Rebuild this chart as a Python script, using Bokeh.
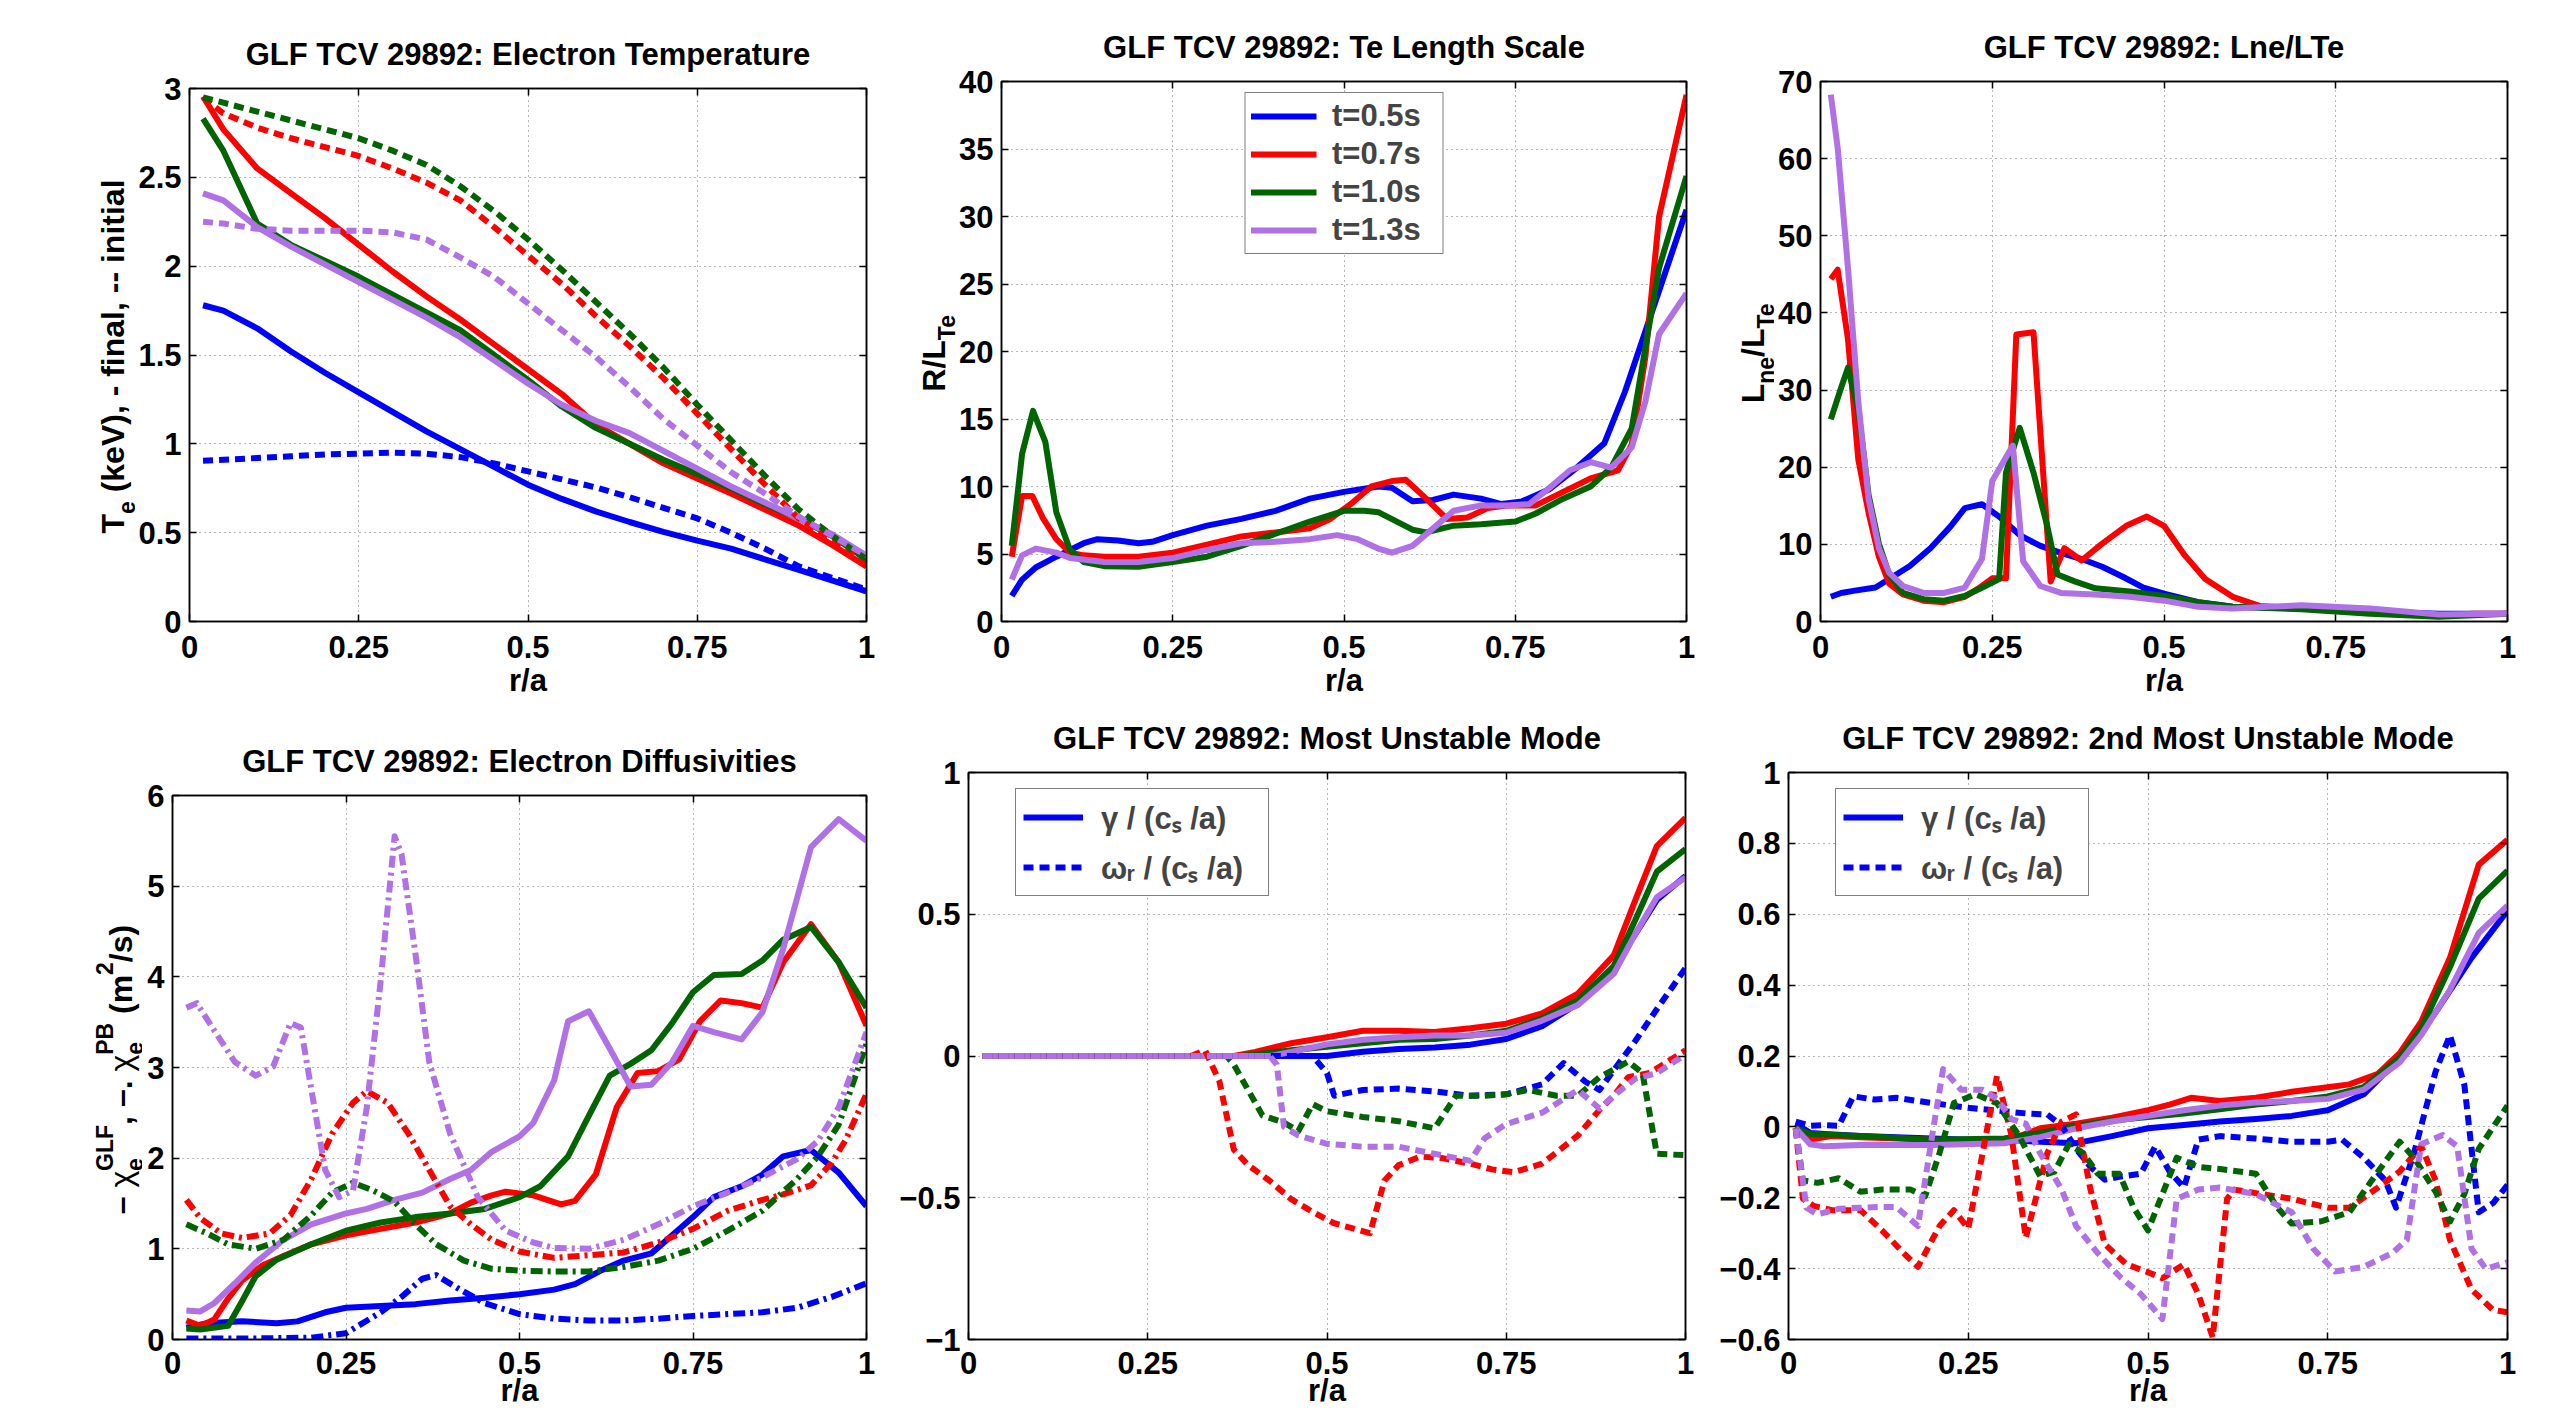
import math
from bokeh.plotting import figure
from bokeh.models import (Range1d, LinearAxis, FixedTicker, Label, Legend, LegendItem,
                          CustomJSTickFormatter)
from bokeh.layouts import column, row
from bokeh.embed import file_html
from bokeh.resources import INLINE

FONT = "Liberation Sans"
BLUE, RED, GREEN, PURPLE = "#0000FF", "#FF0000", "#006400", "#B070E6"
LW = 6
DASH = "10 6"
DASHDOT = "12 5 3 5"

# ---------------- data: Electron temperature ----------------
te_x = [0.02, 0.05, 0.1, 0.15, 0.2, 0.25, 0.3, 0.35, 0.4, 0.45, 0.5, 0.55, 0.6, 0.65, 0.7, 0.75, 0.8, 0.85, 0.9, 0.95, 1.0]
te_blue_final = [1.78, 1.75, 1.65, 1.52, 1.40, 1.29, 1.18, 1.07, 0.97, 0.87, 0.77, 0.69, 0.62, 0.56, 0.505, 0.455, 0.41, 0.35, 0.29, 0.23, 0.17]
te_red_final = [2.955, 2.77, 2.55, 2.41, 2.27, 2.12, 1.97, 1.83, 1.70, 1.56, 1.42, 1.28, 1.11, 1.0, 0.89, 0.805, 0.72, 0.63, 0.54, 0.43, 0.31]
te_green_final = [2.83, 2.65, 2.24, 2.12, 2.03, 1.94, 1.84, 1.74, 1.64, 1.50, 1.36, 1.21, 1.09, 1.0, 0.91, 0.83, 0.75, 0.66, 0.58, 0.48, 0.35]
te_purple_final = [2.41, 2.37, 2.22, 2.11, 2.01, 1.91, 1.81, 1.71, 1.60, 1.47, 1.34, 1.22, 1.13, 1.06, 0.96, 0.86, 0.76, 0.67, 0.58, 0.49, 0.37]
te_blue_init = [0.905, 0.91, 0.92, 0.93, 0.94, 0.945, 0.95, 0.945, 0.925, 0.89, 0.845, 0.80, 0.755, 0.70, 0.64, 0.58, 0.50, 0.41, 0.31, 0.245, 0.18]
te_red_init = [2.95, 2.86, 2.78, 2.72, 2.67, 2.62, 2.55, 2.47, 2.37, 2.22, 2.06, 1.90, 1.72, 1.55, 1.37, 1.17, 0.97, 0.77, 0.58, 0.46, 0.33]
te_green_init = [2.95, 2.92, 2.87, 2.82, 2.77, 2.72, 2.65, 2.57, 2.45, 2.31, 2.15, 1.98, 1.80, 1.62, 1.43, 1.22, 1.02, 0.82, 0.63, 0.48, 0.35]
te_purple_init = [2.25, 2.24, 2.21, 2.2, 2.2, 2.2, 2.19, 2.15, 2.05, 1.94, 1.79, 1.64, 1.49, 1.32, 1.14, 0.99, 0.84, 0.72, 0.59, 0.48, 0.37]

# ---------------- data: R/L_Te ----------------
rl_blue_x = [0.015, 0.03, 0.05, 0.08, 0.1, 0.12, 0.14, 0.17, 0.2, 0.22, 0.25, 0.3, 0.35, 0.4, 0.45, 0.5, 0.55, 0.57, 0.6, 0.63, 0.66, 0.7, 0.73, 0.76, 0.8, 0.84, 0.88, 0.91, 0.94, 0.97, 1.0]
rl_blue_y = [1.9, 3.1, 4.0, 4.8, 5.3, 5.8, 6.1, 6.0, 5.8, 5.9, 6.4, 7.1, 7.6, 8.2, 9.1, 9.6, 10.0, 9.9, 8.9, 9.0, 9.4, 9.1, 8.7, 8.9, 9.8, 11.4, 13.2, 17.0, 21.5, 26.0, 30.5]
rl_red_x = [0.015, 0.03, 0.045, 0.06, 0.08, 0.1, 0.12, 0.15, 0.2, 0.25, 0.3, 0.35, 0.4, 0.45, 0.48, 0.51, 0.54, 0.57, 0.59, 0.62, 0.65, 0.68, 0.71, 0.74, 0.78, 0.82, 0.86, 0.9, 0.92, 0.94, 0.96, 1.0]
rl_red_y = [4.8, 9.3, 9.3, 7.7, 6.1, 5.1, 4.9, 4.8, 4.8, 5.1, 5.7, 6.3, 6.6, 6.9, 7.6, 8.7, 10.0, 10.4, 10.5, 9.1, 7.6, 7.7, 8.4, 8.6, 8.6, 9.6, 10.6, 11.2, 13.1, 19.6, 30.0, 39.0]
rl_green_x = [0.015, 0.03, 0.046, 0.064, 0.08, 0.1, 0.12, 0.15, 0.2, 0.25, 0.3, 0.35, 0.4, 0.45, 0.5, 0.53, 0.55, 0.6, 0.62, 0.66, 0.7, 0.75, 0.78, 0.82, 0.86, 0.89, 0.92, 0.94, 0.96, 1.0]
rl_green_y = [5.6, 12.4, 15.6, 13.3, 8.1, 5.3, 4.4, 4.1, 4.05, 4.4, 4.8, 5.6, 6.5, 7.4, 8.2, 8.2, 8.1, 6.8, 6.6, 7.1, 7.2, 7.4, 8.0, 9.1, 10.0, 11.4, 14.3, 20.3, 26.2, 33.0]
rl_purple_x = [0.015, 0.03, 0.05, 0.08, 0.1, 0.15, 0.2, 0.25, 0.3, 0.35, 0.4, 0.45, 0.49, 0.52, 0.55, 0.57, 0.6, 0.63, 0.66, 0.7, 0.74, 0.77, 0.8, 0.83, 0.86, 0.89, 0.92, 0.94, 0.96, 1.0]
rl_purple_y = [3.1, 4.9, 5.4, 5.1, 4.7, 4.4, 4.4, 4.7, 5.3, 5.8, 5.9, 6.1, 6.4, 6.1, 5.4, 5.1, 5.6, 6.9, 8.2, 8.6, 8.6, 8.7, 9.9, 11.2, 11.8, 11.4, 12.9, 16.3, 21.3, 24.3]
legend_times = ["t=0.5s", "t=0.7s", "t=1.0s", "t=1.3s"]

# ---------------- data: Lne/LTe ----------------
lr_blue_x = [0.015, 0.03, 0.05, 0.08, 0.1, 0.13, 0.16, 0.19, 0.21, 0.235, 0.26, 0.29, 0.32, 0.35, 0.38, 0.41, 0.44, 0.47, 0.5, 0.55, 0.6, 0.7, 0.8, 0.9, 1.0]
lr_blue_y = [3.2, 3.7, 4.0, 4.4, 5.5, 7.2, 9.5, 12.4, 14.7, 15.2, 13.6, 11.2, 9.8, 8.9, 8.1, 7.1, 5.8, 4.4, 3.6, 2.5, 1.9, 1.7, 1.3, 1.0, 1.0]
lr_red_x = [0.015, 0.025, 0.04, 0.055, 0.07, 0.085, 0.1, 0.12, 0.15, 0.18, 0.21, 0.23, 0.25, 0.27, 0.285, 0.31, 0.335, 0.355, 0.38, 0.41, 0.445, 0.475, 0.5, 0.53, 0.56, 0.6, 0.64, 0.7, 0.8, 0.9, 0.95, 1.0]
lr_red_y = [44.4, 45.6, 36.6, 21.0, 14.1, 8.4, 4.9, 3.5, 2.7, 2.5, 3.2, 4.3, 5.6, 5.6, 37.2, 37.5, 5.2, 9.5, 7.9, 10.1, 12.4, 13.6, 12.4, 8.6, 5.5, 3.2, 2.0, 1.7, 1.2, 0.8, 1.0, 1.0]
lr_green_x = [0.015, 0.03, 0.04, 0.055, 0.07, 0.085, 0.1, 0.12, 0.15, 0.18, 0.21, 0.24, 0.26, 0.27, 0.29, 0.31, 0.33, 0.345, 0.37, 0.4, 0.45, 0.5, 0.55, 0.6, 0.7, 0.8, 0.9, 1.0]
lr_green_y = [26.2, 30.3, 32.9, 27.4, 16.4, 10.1, 6.1, 3.7, 2.9, 2.7, 3.3, 4.6, 5.5, 19.3, 25.1, 19.3, 12.4, 6.1, 5.2, 4.3, 3.9, 3.3, 2.5, 1.9, 1.6, 1.0, 0.6, 1.0]
lr_purple_x = [0.015, 0.025, 0.04, 0.055, 0.07, 0.085, 0.1, 0.12, 0.15, 0.18, 0.21, 0.235, 0.25, 0.28, 0.295, 0.32, 0.35, 0.4, 0.45, 0.5, 0.55, 0.6, 0.65, 0.7, 0.8, 0.9, 1.0]
lr_purple_y = [68.3, 61.4, 45.8, 28.5, 15.9, 9.5, 6.3, 4.6, 3.7, 3.7, 4.4, 8.1, 18.2, 22.8, 7.8, 4.6, 3.7, 3.5, 3.2, 2.7, 1.9, 1.7, 1.9, 2.1, 1.7, 0.9, 1.0]

# ---------------- data: Electron diffusivities ----------------
chi_blue_x = [0.02, 0.05, 0.1, 0.15, 0.18, 0.22, 0.25, 0.3, 0.35, 0.4, 0.45, 0.5, 0.55, 0.58, 0.62, 0.65, 0.69, 0.72, 0.75, 0.78, 0.82, 0.85, 0.88, 0.92, 0.96, 1.0]
chi_blue_y = [0.13, 0.18, 0.2, 0.18, 0.2, 0.3, 0.35, 0.37, 0.39, 0.43, 0.46, 0.5, 0.55, 0.61, 0.77, 0.87, 0.95, 1.15, 1.35, 1.57, 1.69, 1.82, 2.02, 2.09, 1.84, 1.47]
chi_red_x = [0.02, 0.04, 0.06, 0.08, 0.1, 0.13, 0.16, 0.2, 0.25, 0.3, 0.35, 0.4, 0.43, 0.46, 0.48, 0.52, 0.56, 0.58, 0.61, 0.64, 0.67, 0.7, 0.73, 0.76, 0.79, 0.82, 0.85, 0.88, 0.92, 0.96, 1.0]
chi_red_y = [0.21, 0.15, 0.22, 0.45, 0.65, 0.82, 0.92, 1.05, 1.15, 1.22, 1.29, 1.39, 1.51, 1.59, 1.63, 1.59, 1.49, 1.53, 1.82, 2.56, 2.94, 2.96, 3.09, 3.51, 3.74, 3.71, 3.66, 4.16, 4.58, 4.16, 3.46]
chi_green_x = [0.02, 0.04, 0.08, 0.1, 0.12, 0.15, 0.2, 0.25, 0.3, 0.35, 0.4, 0.45, 0.5, 0.53, 0.57, 0.6, 0.63, 0.66, 0.69, 0.72, 0.75, 0.78, 0.82, 0.85, 0.88, 0.92, 0.96, 1.0]
chi_green_y = [0.12, 0.11, 0.15, 0.42, 0.7, 0.88, 1.05, 1.2, 1.29, 1.35, 1.39, 1.44, 1.57, 1.69, 2.02, 2.47, 2.91, 3.04, 3.19, 3.49, 3.83, 4.02, 4.03, 4.18, 4.41, 4.55, 4.16, 3.66]
chi_purple_x = [0.02, 0.04, 0.06, 0.09, 0.12, 0.16, 0.2, 0.25, 0.28, 0.32, 0.36, 0.4, 0.43, 0.46, 0.5, 0.52, 0.55, 0.57, 0.6, 0.63, 0.66, 0.69, 0.72, 0.75, 0.78, 0.82, 0.85, 0.88, 0.92, 0.96, 1.0]
chi_purple_y = [0.32, 0.31, 0.4, 0.62, 0.85, 1.1, 1.27, 1.39, 1.44, 1.54, 1.62, 1.77, 1.87, 2.07, 2.24, 2.39, 2.86, 3.51, 3.62, 3.21, 2.79, 2.81, 3.06, 3.46, 3.39, 3.31, 3.61, 4.31, 5.43, 5.74, 5.5]
pb_blue_x = [0.02, 0.1, 0.2, 0.25, 0.3, 0.33, 0.36, 0.38, 0.41, 0.45, 0.5, 0.55, 0.6, 0.65, 0.7, 0.75, 0.8, 0.85, 0.9, 0.95, 1.0]
pb_blue_y = [0.01, 0.01, 0.02, 0.07, 0.3, 0.47, 0.67, 0.71, 0.57, 0.4, 0.28, 0.23, 0.21, 0.21, 0.23, 0.26, 0.28, 0.3, 0.35, 0.47, 0.62]
pb_red_x = [0.02, 0.04, 0.07, 0.1, 0.14, 0.17, 0.2, 0.23, 0.26, 0.28, 0.31, 0.34, 0.37, 0.4, 0.43, 0.46, 0.5, 0.55, 0.6, 0.65, 0.7, 0.75, 0.8, 0.85, 0.88, 0.92, 0.95, 0.97, 1.0]
pb_red_y = [1.54, 1.34, 1.17, 1.12, 1.17, 1.37, 1.77, 2.27, 2.61, 2.74, 2.61, 2.27, 1.87, 1.47, 1.27, 1.1, 0.97, 0.9, 0.93, 0.96, 1.07, 1.22, 1.42, 1.54, 1.6, 1.7, 1.95, 2.2, 2.71]
pb_green_x = [0.02, 0.05, 0.08, 0.12, 0.16, 0.2, 0.23, 0.26, 0.29, 0.32, 0.35, 0.38, 0.42, 0.46, 0.5, 0.55, 0.6, 0.65, 0.7, 0.75, 0.8, 0.85, 0.9, 0.93, 0.96, 1.0]
pb_green_y = [1.27, 1.17, 1.05, 1.0, 1.1, 1.37, 1.62, 1.73, 1.64, 1.52, 1.27, 1.05, 0.87, 0.78, 0.76, 0.75, 0.75, 0.8, 0.87, 1.0, 1.2, 1.42, 1.77, 2.02, 2.37, 3.26]
pb_purple_x = [0.02, 0.035, 0.06, 0.09, 0.12, 0.145, 0.17, 0.185, 0.2, 0.22, 0.24, 0.26, 0.28, 0.3, 0.32, 0.33, 0.35, 0.37, 0.4, 0.44, 0.48, 0.52, 0.55, 0.6, 0.65, 0.7, 0.75, 0.8, 0.85, 0.9, 0.93, 0.96, 1.0]
pb_purple_y = [3.66, 3.71, 3.41, 3.06, 2.91, 3.01, 3.49, 3.44, 2.76, 1.87, 1.57, 1.64, 2.56, 3.96, 5.55, 5.35, 4.26, 3.06, 2.27, 1.57, 1.2, 1.07, 1.01, 1.0, 1.1, 1.27, 1.47, 1.62, 1.79, 1.99, 2.19, 2.56, 3.39]

# ---------------- data: Most unstable mode ----------------
m1g_blue_x = [0.02, 0.45, 0.5, 0.55, 0.6, 0.65, 0.7, 0.75, 0.8, 0.85, 0.9, 0.93, 0.96, 1.0]
m1g_blue_y = [0, 0, 0.0, 0.015, 0.025, 0.03, 0.04, 0.06, 0.105, 0.185, 0.31, 0.43, 0.55, 0.635]
m1g_red_x = [0.02, 0.37, 0.4, 0.45, 0.5, 0.55, 0.6, 0.65, 0.7, 0.75, 0.8, 0.85, 0.9, 0.93, 0.96, 1.0]
m1g_red_y = [0, 0, 0.014, 0.045, 0.066, 0.089, 0.089, 0.085, 0.098, 0.114, 0.15, 0.22, 0.355, 0.55, 0.74, 0.84]
m1g_green_x = [0.02, 0.38, 0.45, 0.5, 0.55, 0.6, 0.65, 0.7, 0.75, 0.8, 0.85, 0.9, 0.93, 0.96, 1.0]
m1g_green_y = [0, 0, 0.02, 0.033, 0.045, 0.057, 0.06, 0.072, 0.089, 0.133, 0.197, 0.317, 0.48, 0.65, 0.73]
m1g_purple_x = [0.02, 0.42, 0.45, 0.5, 0.55, 0.6, 0.65, 0.7, 0.75, 0.8, 0.85, 0.9, 0.93, 0.96, 1.0]
m1g_purple_y = [0, 0, 0.014, 0.041, 0.057, 0.066, 0.072, 0.072, 0.082, 0.125, 0.18, 0.29, 0.43, 0.56, 0.63]
m1w_blue_x = [0.02, 0.48, 0.5, 0.51, 0.55, 0.6, 0.65, 0.7, 0.75, 0.8, 0.83, 0.86, 0.88, 0.9, 0.93, 0.96, 1.0]
m1w_blue_y = [0, 0, -0.06, -0.14, -0.12, -0.115, -0.125, -0.14, -0.135, -0.1, -0.025, -0.09, -0.12, -0.05, 0.053, 0.165, 0.31]
m1w_red_x = [0.02, 0.31, 0.33, 0.35, 0.37, 0.39, 0.42, 0.45, 0.48, 0.51, 0.56, 0.58, 0.6, 0.63, 0.66, 0.7, 0.73, 0.76, 0.8, 0.85, 0.88, 0.9, 0.92, 0.95, 1.0]
m1w_red_y = [0, 0, 0.02, -0.09, -0.33, -0.385, -0.44, -0.505, -0.55, -0.59, -0.625, -0.44, -0.385, -0.355, -0.36, -0.38, -0.4, -0.41, -0.38, -0.28, -0.19, -0.14, -0.075, -0.06, 0.02]
m1w_green_x = [0.02, 0.36, 0.37, 0.39, 0.41, 0.44, 0.46, 0.48, 0.5, 0.55, 0.6, 0.65, 0.68, 0.72, 0.75, 0.78, 0.82, 0.85, 0.88, 0.92, 0.94, 0.96, 1.0]
m1w_green_y = [0, 0, -0.03, -0.12, -0.21, -0.235, -0.265, -0.17, -0.195, -0.215, -0.23, -0.255, -0.14, -0.14, -0.135, -0.12, -0.14, -0.14, -0.075, -0.02, -0.06, -0.345, -0.35]
m1w_purple_x = [0.02, 0.42, 0.43, 0.44, 0.46, 0.5, 0.55, 0.6, 0.64, 0.67, 0.7, 0.72, 0.75, 0.8, 0.85, 0.88, 0.9, 0.93, 0.96, 1.0]
m1w_purple_y = [0, 0, -0.03, -0.25, -0.28, -0.31, -0.32, -0.32, -0.34, -0.355, -0.37, -0.29, -0.24, -0.2, -0.12, -0.185, -0.14, -0.08, -0.06, 0.005]

# ---------------- data: 2nd most unstable mode ----------------
m2g_blue_x = [0.01, 0.03, 0.05, 0.1, 0.15, 0.2, 0.25, 0.3, 0.35, 0.4, 0.45, 0.5, 0.55, 0.6, 0.65, 0.7, 0.75, 0.8, 0.85, 0.9, 0.95, 1.0]
m2g_blue_y = [0.009, -0.017, -0.02, -0.026, -0.029, -0.033, -0.036, -0.036, -0.042, -0.046, -0.026, -0.004, 0.005, 0.015, 0.022, 0.031, 0.047, 0.092, 0.195, 0.323, 0.477, 0.61]
m2g_red_x = [0.01, 0.03, 0.06, 0.1, 0.2, 0.3, 0.35, 0.4, 0.45, 0.5, 0.53, 0.56, 0.6, 0.65, 0.7, 0.75, 0.78, 0.82, 0.85, 0.88, 0.92, 0.96, 1.0]
m2g_red_y = [0.0, -0.036, -0.026, -0.029, -0.036, -0.042, -0.004, 0.009, 0.026, 0.047, 0.063, 0.082, 0.073, 0.082, 0.099, 0.112, 0.12, 0.15, 0.208, 0.297, 0.477, 0.74, 0.81]
m2g_green_x = [0.01, 0.03, 0.1, 0.2, 0.3, 0.35, 0.4, 0.45, 0.5, 0.55, 0.6, 0.65, 0.7, 0.75, 0.8, 0.85, 0.88, 0.92, 0.96, 1.0]
m2g_green_y = [-0.004, -0.02, -0.026, -0.036, -0.033, -0.017, 0.003, 0.018, 0.028, 0.038, 0.05, 0.063, 0.073, 0.086, 0.112, 0.195, 0.278, 0.451, 0.644, 0.723]
m2g_purple_x = [0.01, 0.03, 0.05, 0.1, 0.2, 0.3, 0.35, 0.4, 0.45, 0.5, 0.55, 0.6, 0.65, 0.7, 0.75, 0.8, 0.85, 0.88, 0.92, 0.96, 1.0]
m2g_purple_y = [-0.004, -0.049, -0.055, -0.051, -0.051, -0.046, -0.029, -0.004, 0.015, 0.031, 0.047, 0.06, 0.069, 0.073, 0.079, 0.105, 0.182, 0.259, 0.387, 0.547, 0.624]
m2w_blue_x = [0.01, 0.03, 0.05, 0.07, 0.09, 0.12, 0.15, 0.2, 0.25, 0.3, 0.33, 0.36, 0.38, 0.4, 0.42, 0.44, 0.46, 0.49, 0.51, 0.53, 0.55, 0.57, 0.6, 0.65, 0.7, 0.75, 0.77, 0.8, 0.83, 0.845, 0.87, 0.9, 0.92, 0.94, 0.96, 0.98, 1.0]
m2w_blue_y = [0.015, 0.003, 0.005, 0.003, 0.086, 0.077, 0.082, 0.067, 0.054, 0.044, 0.038, 0.035, 0.003, -0.062, -0.113, -0.149, -0.141, -0.132, -0.055, -0.126, -0.171, -0.036, -0.026, -0.033, -0.042, -0.042, -0.036, -0.087, -0.151, -0.228, -0.074, 0.156, 0.259, 0.118, -0.241, -0.215, -0.164]
m2w_red_x = [0.01, 0.02, 0.035, 0.06, 0.1, 0.13, 0.16, 0.18, 0.21, 0.23, 0.25, 0.27, 0.29, 0.31, 0.33, 0.36, 0.38, 0.4, 0.42, 0.44, 0.47, 0.5, 0.52, 0.55, 0.57, 0.59, 0.61, 0.62, 0.65, 0.7, 0.75, 0.78, 0.82, 0.85, 0.88, 0.9, 0.92, 0.95, 0.98, 1.0]
m2w_red_y = [-0.004, -0.203, -0.223, -0.235, -0.235, -0.292, -0.356, -0.395, -0.28, -0.235, -0.287, -0.074, 0.144, -0.023, -0.313, -0.074, 0.015, 0.035, -0.177, -0.331, -0.388, -0.41, -0.427, -0.388, -0.472, -0.594, -0.203, -0.177, -0.187, -0.203, -0.228, -0.228, -0.171, -0.126, -0.055, -0.151, -0.319, -0.459, -0.517, -0.523]
m2w_green_x = [0.01, 0.02, 0.04, 0.07, 0.1, 0.13, 0.17, 0.19, 0.21, 0.23, 0.26, 0.29, 0.32, 0.35, 0.37, 0.39, 0.41, 0.43, 0.46, 0.48, 0.5, 0.52, 0.54, 0.57, 0.6, 0.65, 0.68, 0.7, 0.74, 0.78, 0.82, 0.85, 0.87, 0.9, 0.92, 0.94, 0.96, 1.0]
m2w_green_y = [-0.004, -0.151, -0.158, -0.145, -0.183, -0.177, -0.177, -0.196, -0.074, 0.067, 0.092, 0.067, -0.023, -0.139, -0.126, -0.049, -0.074, -0.132, -0.132, -0.228, -0.292, -0.19, -0.087, -0.113, -0.119, -0.132, -0.228, -0.273, -0.267, -0.241, -0.126, -0.042, -0.087, -0.183, -0.267, -0.19, -0.062, 0.06]
m2w_purple_x = [0.01, 0.025, 0.04, 0.07, 0.1, 0.13, 0.15, 0.18, 0.2, 0.215, 0.24, 0.27, 0.29, 0.31, 0.33, 0.35, 0.38, 0.4, 0.43, 0.46, 0.49, 0.52, 0.54, 0.57, 0.6, 0.65, 0.7, 0.73, 0.76, 0.8, 0.84, 0.86, 0.88, 0.91, 0.93, 0.95, 0.97, 1.0]
m2w_purple_y = [-0.004, -0.228, -0.247, -0.231, -0.228, -0.226, -0.226, -0.28, -0.023, 0.163, 0.105, 0.105, 0.079, 0.022, 0.009, -0.074, -0.177, -0.28, -0.356, -0.421, -0.472, -0.542, -0.203, -0.177, -0.171, -0.19, -0.241, -0.344, -0.408, -0.395, -0.356, -0.319, -0.049, -0.023, -0.055, -0.344, -0.401, -0.382]

x_ticks = [0, 0.25, 0.5, 0.75, 1]
mode_legend = ["\u03b3 / (c\u209b /a)", "\u03c9\u1d63 / (c\u209b /a)"]

# ---------------- helpers ----------------
WID = {' ': 278, '(': 333, ')': 333, ',': 278, '-': 333, '.': 278, '/': 278, ':': 333, '=': 584,
       'A': 722, 'B': 722, 'C': 722, 'D': 722, 'E': 667, 'F': 611, 'G': 778, 'H': 722, 'I': 278,
       'L': 611, 'M': 833, 'N': 722, 'O': 778, 'P': 667, 'R': 722, 'S': 667, 'T': 611, 'U': 722, 'V': 667,
       'a': 556, 'b': 611, 'c': 556, 'd': 611, 'e': 556, 'f': 333, 'g': 611, 'h': 611, 'i': 278,
       'k': 556, 'l': 278, 'm': 889, 'n': 611, 'o': 611, 'p': 611, 'r': 389, 's': 556, 't': 333,
       'u': 611, 'v': 556, 'y': 556, '\u2013': 556, '\u2212': 584, '\u03c7': 520}
for d in "0123456789":
    WID[d] = 556


def tw(s, size):
    return sum(WID.get(c, 556) for c in s) * size / 1000.0


def rich(p, pieces, x, y, dx, dy, vertical=False):
    """Place a run of text pieces (with sub/superscripts) as Labels."""
    widths = []
    for pc in pieces:
        if pc[0] == "stack":
            widths.append(max(tw(pc[1], pc[3]), tw(pc[2], pc[3])))
        else:
            widths.append(tw(pc[0], pc[1]))
    adv = -sum(widths) / 2.0
    for pc, wdt in zip(pieces, widths):
        if pc[0] == "stack":
            items = [(pc[1], pc[3], pc[4], pc[6]), (pc[2], pc[3], pc[5], pc[6])]
        else:
            items = [pc]
        for (txt, size, shift, style) in items:
            lead = len(txt) - len(txt.lstrip(" "))
            a = adv + tw(" " * lead, size)
            txt = txt.strip(" ")
            if vertical:
                xo, yo, ang = dx - shift, dy + a, math.pi / 2
            else:
                xo, yo, ang = dx + a, dy + shift, 0
            p.add_layout(Label(x=x, y=y, x_offset=xo, y_offset=yo, text=txt, angle=ang,
                               text_align="left", text_baseline="alphabetic", text_font=FONT,
                               text_font_size=f"{size}px", text_font_style=style,
                               text_color="black"))
        adv += wdt


FMT = CustomJSTickFormatter(code="""
const s = parseFloat(Math.abs(tick).toFixed(4)).toString();
return (tick < -1e-9 ? "\\u2212" : "") + s;
""")
EMPTY = CustomJSTickFormatter(code="return '';")


def no_align(p):
    try:
        p.frame_align = False
    except Exception:
        pass


def style_axis(ax, ticker, labels, standoff=8):
    ax.ticker = ticker
    ax.formatter = FMT if labels else EMPTY
    ax.axis_line_color = "black"
    ax.axis_line_width = 1.5
    ax.major_tick_in = 7
    ax.major_tick_out = 0
    ax.major_tick_line_color = "black"
    ax.major_tick_line_width = 1.5
    ax.minor_tick_in = 0
    ax.minor_tick_out = 0
    ax.major_label_text_font = FONT
    ax.major_label_text_font_style = "bold"
    ax.major_label_text_color = "black"
    ax.major_label_text_font_size = "31px" if labels else "0px"
    ax.major_label_standoff = standoff if labels else 0


def make_fig(w, h, bl, br, bt, bb, ylo, yhi, yticks, title, tick_standoff, label_standoff):
    p = figure(width=w, height=h, x_range=Range1d(0, 1), y_range=Range1d(ylo, yhi),
               output_backend="svg", toolbar_location=None, title=title,
               min_border_left=bl, min_border_right=br, min_border_top=bt, min_border_bottom=bb,
               background_fill_color="white", border_fill_color="white")
    no_align(p)
    p.outline_line_color = "black"
    p.outline_line_width = 1.5
    p.title.align = "center"
    p.title.text_font = FONT
    p.title.text_font_size = "31px"
    p.title.text_font_style = "bold"
    p.title.text_color = "black"
    p.title.standoff = 33
    xt = FixedTicker(ticks=x_ticks)
    yt = FixedTicker(ticks=yticks)
    style_axis(p.xaxis[0], xt, True, tick_standoff)
    style_axis(p.yaxis[0], yt, True, 8)
    p.xaxis[0].axis_label = "r/a"
    p.xaxis[0].axis_label_text_font = FONT
    p.xaxis[0].axis_label_text_font_size = "31px"
    p.xaxis[0].axis_label_text_font_style = "bold"
    p.xaxis[0].axis_label_text_color = "black"
    p.xaxis[0].axis_label_standoff = label_standoff
    top = LinearAxis()
    style_axis(top, xt, False)
    p.add_layout(top, "above")
    right = LinearAxis()
    style_axis(right, yt, False)
    p.add_layout(right, "right")
    p.xgrid.ticker = xt
    p.ygrid.ticker = yt
    for g in (p.xgrid[0], p.ygrid[0]):
        g.grid_line_color = "#707070"
        g.grid_line_dash = "1 4"
        g.grid_line_width = 1
    return p


def label_fig(w, h):
    f = figure(width=w, height=h, x_range=Range1d(0, w), y_range=Range1d(0, h),
               output_backend="svg", toolbar_location=None,
               x_axis_location=None, y_axis_location=None,
               min_border=0, min_border_left=0, min_border_right=0,
               min_border_top=0, min_border_bottom=0,
               background_fill_color="white", border_fill_color="white")
    no_align(f)
    f.outline_line_color = None
    f.grid.visible = False
    return f


def ln(p, x, y, color, dash="solid"):
    return p.line(x, y, line_color=color, line_width=LW, line_dash=dash, line_join="round")


COLS = [BLUE, RED, GREEN, PURPLE]
ROW1_H, ROW2_H = 700, 710

# ---------------- Plot 1 ----------------
yl1 = label_fig(135, ROW1_H)
rich(yl1, [("T", 32, 0, "bold"), ("e", 23, -14, "bold"),
           (" (keV), - final, -- initial", 32, 0, "bold")], 112, 344, 0, 0, vertical=True)
p1 = make_fig(750, ROW1_H, 53, 19, 88, 76, 0, 3, [0, 0.5, 1, 1.5, 2, 2.5, 3],
              "GLF TCV 29892: Electron Temperature", 14, 2)
for yv, c in zip([te_blue_final, te_red_final, te_green_final, te_purple_final], COLS):
    ln(p1, te_x, yv, c)
for yv, c in zip([te_blue_init, te_red_init, te_green_init, te_purple_init], COLS):
    ln(p1, te_x, yv, c, DASH)

# ---------------- Plot 2 ----------------
yl2 = label_fig(71, ROW1_H)
rich(yl2, [("R/L", 32, 0, "bold"), ("Te", 23, -13, "bold")], 48, 348, 0, 0, vertical=True)
p2 = make_fig(754, ROW1_H, 43, 24, 81, 77, 0, 40, list(range(0, 41, 5)),
              "GLF TCV 29892: Te Length Scale", 14, 2)
rend2 = []
for xv, yv, c in zip([rl_blue_x, rl_red_x, rl_green_x, rl_purple_x],
                     [rl_blue_y, rl_red_y, rl_green_y, rl_purple_y], COLS):
    rend2.append(ln(p2, xv, yv, c))
leg2 = Legend(items=[LegendItem(label=t, renderers=[r]) for t, r in zip(legend_times, rend2)],
              location="top_center", margin=11, padding=5, spacing=2,
              glyph_width=66, glyph_height=20, label_height=20, label_width=105,
              label_standoff=16, label_text_font=FONT, label_text_font_style="bold",
              label_text_font_size="31px", border_line_color="black", border_line_width=1.5,
              background_fill_color="white", background_fill_alpha=1)
p2.add_layout(leg2)

# ---------------- Plot 3 ----------------
yl3 = label_fig(64, ROW1_H)
rich(yl3, [("L", 32, 0, "bold"), ("ne", 23, -13, "bold"), ("/L", 32, 0, "bold"),
           ("Te", 23, -13, "bold")], 42, 348, 0, 0, vertical=True)
p3 = make_fig(778, ROW1_H, 46, 45, 81, 77, 0, 70, list(range(0, 71, 10)),
              "GLF TCV 29892: Lne/LTe", 14, 2)
for xv, yv, c in zip([lr_blue_x, lr_red_x, lr_green_x, lr_purple_x],
                     [lr_blue_y, lr_red_y, lr_green_y, lr_purple_y], COLS):
    ln(p3, xv, yv, c)

# ---------------- Plot 4 ----------------
yl4 = label_fig(142, ROW2_H)
rich(yl4, [("\u2013 ", 32, 0, "bold"), ("\u03c7", 32, 0, "normal"),
           ("stack", "e", "GLF", 23, -14, 16, "bold"),
           (", \u2013. ", 32, 0, "bold"), ("\u03c7", 32, 0, "normal"),
           ("stack", "e", "PB", 23, -14, 16, "bold"),
           (" (m", 32, 0, "bold"), ("2", 23, 16, "bold"), ("/s)", 32, 0, "bold")],
     120, 341, 0, 0, vertical=True)
p4 = make_fig(743, ROW2_H, 30, 19, 95, 67, 0, 6, [0, 1, 2, 3, 4, 5, 6],
              "GLF TCV 29892: Electron Diffusivities", 12, -4)
for xv, yv, c in zip([chi_blue_x, chi_red_x, chi_green_x, chi_purple_x],
                     [chi_blue_y, chi_red_y, chi_green_y, chi_purple_y], COLS):
    ln(p4, xv, yv, c)
for xv, yv, c in zip([pb_blue_x, pb_red_x, pb_green_x, pb_purple_x],
                     [pb_blue_y, pb_red_y, pb_green_y, pb_purple_y], COLS):
    ln(p4, xv, yv, c, DASHDOT)


def mode_plot(w, bl, br, ylo, yhi, yticks, title, gx, gy, wx, wy):
    p = make_fig(w, ROW2_H, bl, br, 72, 70, ylo, yhi, yticks, title, 12, -4)
    rg = [ln(p, x, y, c) for x, y, c in zip(gx, gy, COLS)]
    rw = [ln(p, x, y, c, DASH) for x, y, c in zip(wx, wy, COLS)]
    leg = Legend(items=[LegendItem(label=mode_legend[0], renderers=[rg[0]]),
                        LegendItem(label=mode_legend[1], renderers=[rw[0]])],
                 location=(47, 443), padding=7, spacing=8,
                 glyph_width=60, glyph_height=20, label_height=20, label_width=160,
                 label_standoff=18, label_text_font=FONT, label_text_font_style="bold",
                 label_text_font_size="31px", border_line_color="black", border_line_width=1.5,
                 background_fill_color="white", background_fill_alpha=1)
    p.add_layout(leg)
    return p


p5 = mode_plot(820, 83, 20, -1, 1, [-1, -0.5, 0, 0.5, 1], "GLF TCV 29892: Most Unstable Mode",
               [m1g_blue_x, m1g_red_x, m1g_green_x, m1g_purple_x],
               [m1g_blue_y, m1g_red_y, m1g_green_y, m1g_purple_y],
               [m1w_blue_x, m1w_red_x, m1w_green_x, m1w_purple_x],
               [m1w_blue_y, m1w_red_y, m1w_green_y, m1w_purple_y])
p6 = mode_plot(847, 83, 45, -0.6, 1, [-0.6, -0.4, -0.2, 0, 0.2, 0.4, 0.6, 0.8, 1],
               "GLF TCV 29892: 2nd Most Unstable Mode",
               [m2g_blue_x, m2g_red_x, m2g_green_x, m2g_purple_x],
               [m2g_blue_y, m2g_red_y, m2g_green_y, m2g_purple_y],
               [m2w_blue_x, m2w_red_x, m2w_green_x, m2w_purple_x],
               [m2w_blue_y, m2w_red_y, m2w_green_y, m2w_purple_y])

layout = column(row(yl1, p1, yl2, p2, yl3, p3), row(yl4, p4, p5, p6))
open("out.html", "w").write(file_html(layout, INLINE))
